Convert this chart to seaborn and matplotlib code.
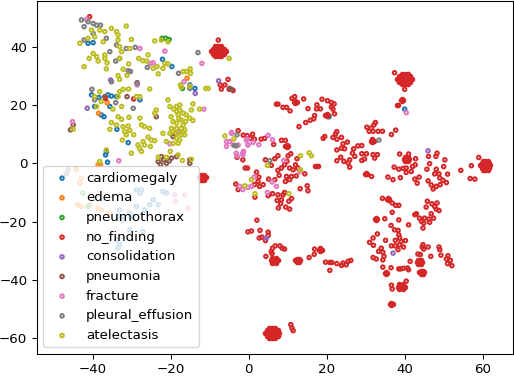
import matplotlib
matplotlib.use("Agg")
import matplotlib.pyplot as plt
import seaborn as sns

cardiomegaly = [(-41.2,41.2),(-39.9,41.4),(-22.1,35.7),(-19.7,33.2),(-40.3,23.5),(-38.4,22.6),(-36.1,23.5),(-35.2,23.1),(-33.9,22.9),
    (-39.5,19.5),(-35.6,19.5),(-27.9,21.8),(-37.1,16),(-37.8,16.6),(-33.8,11.7),(-30.9,7.1),(-36.7,2.9),(-36.5,4),(-36.2,0.4),
    (-15.1,26.9),(-13.8,25.7),(40,18.6),(20.6,16),(-28.8,-9.1),(-27.5,-9.1),(-27.9,-10.2),(-22,-9.7),(-21.1,-10.2),(-24.5,-12.5),
    (-25.4,-14.2),(-26.7,-16),(-23.2,-14.2),(-28.8,-14.8),(-33.1,-16),(-33.5,-18.2),(-32.2,-19.4),(-30.5,-17.1),(-29.7,-18.2),
    (-33.9,-26.2),(-33.1,-27.9),(-33.5,-29),(-30.5,-22.8),(-27.1,-23.4)]

edema = [(-15.8,29.2),(-36.3,20.8),(-38.5,17.2),(-38.6,-0.5),(-38,-0.5),(-44.2,-2),(-42.9,-5.1),(-43.3,-6.8),(-43.8,-14.2),
    (-42.9,-14.8),(-40.8,-14.2),(-38.6,-15.4),(-37.8,-16),(-35.6,-17.1)]

pneumothorax = [(-22.2,42.9),(-21.3,42.9),(-20.4,42.5),(-17,25.7),(-42.5,-10.2),(-41.2,-14.8)]

no_finding_scattered = [(-40.8,50.3),(-36.7,22.3),(-29.5,22.1),(-7.8,42.3),(-5.3,28.8),(-7.3,26.9),(-7,25.5),(-6.1,26.9),(-5,25.4),(-4,25),
    (37.4,31.1),(40,25.4),(7.1,20.3),(7.5,20.3),(11.1,22.3),(11.8,22.9),(14.1,22.1),(8.8,19.2),(9.7,19.2),(10.6,18),(15.2,18.8),
    (17.5,20.1),(17.4,18.7),(18.4,18.7),(18.8,22),(20.2,21.5),(21.2,20.9),(21.9,20.4),(21.2,19.3),(21.6,18.6),(22,17),
    (16.9,16.4),(16.7,15.3),(15.8,14.8),(14.6,14),(12.9,12.6),(19.1,8.6),(19.5,9.2),(22.6,10.9),(22.3,10.1),(21.6,8.9),(22.6,8.3),(23.8,8.9),
    (24.2,6.7),(25.3,7.3),(24.6,5),(22.6,4.6),(23.8,5.2),(26.9,5),(28,6),(29,6.1),(26.6,3.5),(27.2,2.4),(29,3.3),(30.2,3.3),(31.9,3),(33,3),(32.3,1.8),
    (23.6,2.1),(22.6,0.9),(24.4,0.7),(25.9,1.2),(25.5,0.1),(25.9,-1.3),(29,1),(29.7,1.5),(31.5,-4.5),
    (30.3,12.4),(31.4,12.1),(32.1,13.2),(32.5,14),(31.9,11),(33.2,11),(34.3,11),(30.9,11),(36.6,9.9),(37.7,11.4),
    (38.7,3.2),(41,3.2),(42.8,1.6),(42.7,-0.5),(42,-1.1),(37.3,-1.3),(38.5,-2),(40.4,-1.6),(39.6,-1.7),(41.7,-2.8),(40.4,-3.1),
    (35.7,-4.7),(37,-5.6),(38.9,-4.9),(42.6,-5.4),(43.7,-4.7),(43.2,-6.8),(45.7,-2),(46.4,-0.1),(46.1,2.4),(48.3,3.5),(48,2.4),
    (50.3,1.2),(50,-1.1),(48.1,-2),(47.7,-3.6),(48.8,-3.6),(51,-3.7),(46,-6),(46.8,-7.4),(48.1,-7.9),(47.3,-8.8),(49.1,-7.3),(49.8,-5.8),(50.7,-6.6),(49,-5),
    (54.4,-2.4),(57.1,-0.8),(59,2),(56.8,-5.2),(58,-5.4),
    (-2.7,11.2),(-0.4,9.5),(1,10),(0.4,8.6),(-1.4,9.7),(1.5,8.3),(3.2,8.3),(4.1,8.6),(8.4,7.9),(9.4,7.9),(6.4,6.5),
    (7.5,2.6),(10.8,3.3),(10.1,2.6),(4.3,1.2),(6.7,1.6),(12.4,1.6),(9.8,0.7),(12,-0.5),(5.8,-0.7),(7.5,-2.4),(8.4,-1.6),(9.2,-0.5),
    (10.5,-1.6),(11.4,-2.2),(12.6,-1.6),(14.4,-3.6),(7.8,-4.1),(9.7,-4.5),(11,-4.5),(12.2,-4.3),(9.4,-6.2),(10.5,-5.6),(5.1,-5.4),(6.7,-5.6),
    (-0.9,-1.6),(-0.3,-1.6),(2,-3),(2.6,-4.7),(2.4,-6.2),(1.5,-7.3),(2.8,-7.9),(3.7,-7.3),(-3.3,-7.1),(-2.7,-9),(-1.5,1.2),(-3,2.1),
    (13.2,-8.7),(15,-7.7),(15.2,-9.4),(5,-11.1),(6.1,-10.4),(7.5,-10.8),(8.8,-10.8),(7.3,-12.7),(8.4,-12.5),(9.2,-10),(11,-12.1),(10.3,-13),
    (8.2,-13.8),(9.5,-15),(10.5,-15.7),(7.6,-15.3),(1.6,-11.6),(34.3,-12),(36.8,-13.6),(37.7,-14.4),(38.5,-14.4),(45.5,-15),(45.8,-13),(48.3,-13.6),
    (2.1,-19.5),(-0.2,-23.5),(0.7,-23.2),(2.9,-23),(5,-23.6),(5,-24.7),(2.7,-25.6),(3.4,-25.3),(4.3,-26.5),
    (9.2,-29.4),(8.6,-29.1),(8,-28.3),(6.8,-28.3),(6.1,-29.1),(5.8,-30.2),(6,-31),(4.4,-31.9),(16.9,-29.4),(16.8,-31.2),(15.5,-32.3),
    (19.7,-33.9),(20.8,-34),(21.3,-34),(22.6,-34.4),(23.8,-35),(24.2,-34.2),(25,-34.8),(25.5,-33.6),(26.2,-33.3),(20.8,-36.7),
    (10.8,-55.3),(11.1,-56.5),(11.4,-57.4),
    (47,-13.9),(47.7,-14.8),(48.8,-16.2),(48.1,-15.7),(36.8,-16.8),(43,-17.3),(42.6,-17.6),(46.8,-17.3),(43.8,-18.8),(45.1,-18.8),(44.3,-19.9),
    (46.2,-19.1),(47.4,-18.8),(46.4,-20.2),(44.7,-22.2),(44.9,-20.5),(34.9,-19),(38.5,-19.4),(36.5,-21.3),(41,-21.1),(37.4,-22.8),(38.3,-23),(38.5,-24.5),
    (33,-24.2),(31.9,-25.6),(31,-27.1),(32,-28.1),(35.1,-26.4),(37.6,-26.4),(38.7,-25.6),(39.1,-26.8),(40.2,-26.5),(36.6,-28.3),(37.6,-28.3),(38.7,-27.9),
    (39.7,-28.7),(38.3,-29.6),(34,-29.1),(33.3,-30.2),(34.4,-30.5),(34.7,-31.9),(34.4,-33.1),(31.9,-32.3),(32.7,-32.8),
    (34.4,-35.6),(36.5,-35.8),(38.5,-36.2),(39,-36.2),(39.7,-36),(40.7,-35.9),(41,-36.5),(41.4,-33.6),(43.4,-31.1),(44,-31.3),(46.7,-31.9),
    (44.7,-27.9),(46,-28.7),(44.9,-29.4),(44.5,-28.7),(48.8,-28.7),(49,-29.6),(49.3,-31.5),(51.1,-31.7),(50.7,-32.8),(51.7,-33.3),(51,-34.4),(52.1,-35.1),
    (36.6,-41.8),(36.8,-43.1),(40.4,-40.4)]

no_finding_dense = [
    (-9.7,38.5),(-8.75,38.5),(-7.8,38.5),(-6.85,38.5),(-5.9,38.5),(-9.2,39.4),(-8.25,39.4),(-7.35,39.4),(-6.4,39.4),(-9.2,37.6),(-8.25,37.6),(-7.35,37.6),(-6.4,37.6),
    (-8.6,40.3),(-7.8,40.3),(-7,40.3),(-8.6,36.7),(-7.8,36.7),(-7,36.7),
    (38.1,28.9),(39.05,28.9),(40,28.9),(40.95,28.9),(41.9,28.9),(38.6,29.8),(39.55,29.8),(40.45,29.8),(41.4,29.8),(38.6,28),(39.55,28),(40.45,28),(41.4,28),
    (39.2,30.7),(40,30.7),(40.8,30.7),(39.2,27.1),(40,27.1),(40.8,27.1),
    (4.1,-58.2),(5.05,-58.2),(6,-58.2),(6.95,-58.2),(7.9,-58.2),(4.6,-57.3),(5.55,-57.3),(6.45,-57.3),(7.4,-57.3),(4.6,-59.1),(5.55,-59.1),(6.45,-59.1),(7.4,-59.1),
    (5.2,-56.4),(6,-56.4),(6.8,-56.4),(5.2,-60),(6,-60),(6.8,-60),
    (59.4,-0.7),(60.05,-0.7),(60.7,-0.7),(61.35,-0.7),(62,-0.7),(59.8,0.1),(60.4,0.1),(61,0.1),(61.6,0.1),(59.8,-1.5),(60.4,-1.5),(61,-1.5),(61.6,-1.5),
    (60.1,0.8),(60.7,0.8),(61.3,0.8),(60.1,-2.2),(60.7,-2.2),(61.3,-2.2),
    (-11.9,-4.8),(-12.8,-4.8),(-11,-4.8),(-12.35,-4),(-11.45,-4),(-12.35,-5.6),(-11.45,-5.6),
    (6.5,-33.3),(5.6,-33.3),(7.4,-33.3),(6.05,-32.5),(6.95,-32.5),(6.05,-34.1),(6.95,-34.1),
    (12.6,-33.3),(12,-33.3),(13.2,-33.3),(12.3,-32.7),(12.9,-32.7),(12.3,-33.9),(12.9,-33.9),
    (39.1,-42.3),(38.2,-42.3),(40,-42.3),(38.65,-41.5),(39.55,-41.5),(38.65,-43.1),(39.55,-43.1),
    (43.8,-33.7),(43.1,-33.7),(44.5,-33.7),(43.45,-33),(44.15,-33),(43.45,-34.4),(44.15,-34.4),
    (44.4,-37.4),(43.8,-37.4),(45,-37.4),(44.1,-36.8),(44.7,-36.8),(44.1,-38),(44.7,-38),
    (40.4,1.5),(39.7,1.5),(41.1,1.5),(40.05,2.2),(40.75,2.2),(40.05,0.8),(40.75,0.8),
    (18,-29.6),(18.8,-29.6),(18.4,-29.2),(18.4,-30),(9.3,6),(10.1,6),(9.7,6.4),(9.7,5.6),(11.6,21.1),(12.4,21.1),(12,21.5),(12,20.7),
    (19.6,16.6),(20.4,16.6),(20,17),(20,16.2),(31.3,7.8),(32.1,7.8),(31.7,8.2),(31.7,7.4),
    (29.7,-3.5),(30.3,-3.5),(30,-3.2),(30,-3.8),(39,21.8),(39.6,21.8),(39.3,22.1),(39.3,21.5),(36.3,-48.3),(36.9,-48.3),(36.6,-48),(36.6,-48.6),
    (32.3,-19),(32.9,-19),(32.6,-18.7),(32.6,-19.3),(34.9,-37.6),(35.5,-37.6),(35.2,-37.3),(35.2,-37.9),(35.4,-12.2),(36,-12.2),(35.7,-11.9),(35.7,-12.5),
    (38,20),(38.3,20),(16.9,-0.8),(17.4,-0.8),(17.9,-0.8)]

consolidation = [(-41.4,18.9),(-35.4,28.6),(-13.7,24),(-7.7,28.3),(46,4.3),(4.5,-25.6),(37,-30.8)]

pneumonia = [(-31.2,22.9),(-28.6,27.7),(-23.7,16),(-45,13.2),(-45.7,11.5),(-23.2,0.6),(-22.4,2.3),(-21.1,0),(-19.8,1.8),(-18.5,2.3),
    (-15.1,0),(-15.1,1.2),(-21.8,1.2),(-4.9,25.7),(-4.4,25.4),(-19.4,9.2),(-36.9,22.9),(-22.6,-0.4),(-20.4,0.8)]

fracture = [(-41.6,49.4),(-21.5,38.5),(-12,34.3),(-24.5,34.5),(-25.2,34.3),(-16.6,28),(-28.6,26.9),(-11.5,18.6),(-45.2,14.3),(-18.1,10.9),(-20.2,6.7),
    (-33.3,0.9),(-27.9,39.4),(-4.4,10.3),(-5.7,7.5),(-4.9,7.5),(-4,6.3),(-5.7,5.8),(-2.7,6.3),(-0.6,8),(-0.2,6.3),(-3.2,3.5),(-1.5,3.5),
    (-4.4,10.6),(-0.4,8.3),(-0.2,6.4),(1.1,7.2),(2.6,6.4),(5,9.6),(6.1,8.1),(-1.3,4.1),(-1.5,2.9),(-3,2.6),(9,1),(1.4,-4.7),(6,-6.4),(7.1,-7.9),
    (0.7,-7.9),(-0.2,-8.2),(-2.3,-7.9),(-1.5,-9),(4.8,-10),(13.1,-2.8),(40.4,17.4),(-16.4,-10.8),(-15.6,-15.4),(-19,-10.8),(-18.8,-13)]

pleural_effusion = [(-42.9,49.2),(-42.2,46.9),(-41.2,48.6),(-39.9,48),(-39,47.4),(-38,47.4),(-42.2,42.3),(-39.9,44.6),(-39.5,21.8),(-40.2,25.4),
    (-34.1,20.8),(-29.6,18.9),(-33.9,40.6),(-35.6,38.3),(-31.4,39.4),(-29.1,39.8),(-33.1,36),(-34.1,35.1),(-26,32.9),(-30.9,31.8),(-30.3,31.5),
    (-18,30.9),(-13,38),(-15.1,25.7),(-35.2,28),(-28.6,27.5),(-36.5,42.9),(-3,9.8),(-3.2,6),(33.4,8),(5.4,0.9),(-3.6,6.1),(-46.3,-2.2),(-46.8,-3.6)]

atelectasis = [(-40.3,45.7),(-38.2,45.7),(-36.9,45.2),(-35.2,46.3),(-33.9,45.2),(-33.5,44),(-33.5,42.3),(-39.5,43.4),(-41.2,42.9),(-43.3,41.2),(-37.3,41.7),
    (-31.4,47.1),(-30.1,42.5),(-33.1,40),(-32.6,38.3),(-30.5,39.4),(-33.1,36),(-39.9,37.7),(-39,36.6),(-38.6,35.1),(-36.9,37.2),(-36.9,36),(-40.9,36),
    (-36.3,34.5),(-36.5,32.4),(-42.2,33.2),(-30.8,34.1),(-32.2,32.3),(-31.2,30.2),(-33.5,30.1),(-33.1,28.8),(-28.2,36),(-27.1,35.2),(-26.2,35.1),(-25.8,37.2),
    (-24.5,32.6),(-23.2,30.7),(-23.5,33.2),(-24.1,42),(-22.4,42.3),(-20.7,41.7),(-22,32.6),(-21.5,34.3),(-20.7,34.1),(-16.8,31.5),(-16,31.5),(-15,32.4),(-14.9,30.9),
    (-17.5,26.9),(-17.3,26.1),(-15.1,26.5),(-10.4,25.7),(-11,25.7),(-5,36),
    (-38.2,24.6),(-39.5,22.9),(-37.8,21.2),(-39,19.5),(-33.1,24.6),(-32.2,25.4),(-30.8,25.5),(-33.5,22.9),(-32.6,19.5),(-34.8,18.6),(-25.4,25.5),(-28.8,22.9),(-27.9,22.9),
    (-23.7,18.3),(-24.1,17.2),(-33.5,16),(-32.6,15.1),(-30.7,15.8),(-27.9,15.5),(-35.2,14),(-33.9,13.2),(-32.2,12.6),(-30.9,12.8),(-35.6,11.7),(-27.5,13.2),(-26.7,12.6),(-25.4,12),
    (-31.8,10.9),(-30.5,11.3),(-31.4,9.8),(-29.5,9.8),(-32.4,8),(-25.8,9),(-25,8),(-24.1,7.8),(-27.1,7.5),(-28.4,6.3),(-26.7,6.3),(-25.2,5.8),(-28,5.2),(-27.5,4.1),(-30.1,3.5),(-36.5,4.6),(-38.2,0.6),
    (-20.7,21.8),(-20.2,19.5),(-18.5,19.5),(-17.7,20),(-14.3,20.4),(-14.7,18.3),(-12.6,18.6),(-18.5,17.8),(-18.1,16.6),(-16.8,17.2),(-16,16.6),(-17.3,14.9),(-15.1,15.5),(-14.3,14.7),
    (-19.4,14.3),(-18.5,13.8),(-16.8,13.2),(-19.8,12),(-18.5,12),(-17.3,12),(-16.4,11.5),(-20.2,10.3),(-22,10.3),(-18.5,10.3),(-17.3,9.8),(-16.4,9.8),(-21.1,7.5),(-18.5,8.6),(-17.7,8),
    (-19.4,6.9),(-18.1,6.9),(-20.1,4.1),(-18.1,2.9),(-17,1),(-14.7,1.4),(-23.2,2.1),(-21.1,2.1),(-19.2,18.6),(-17.6,18.2),(-19.9,16),(-17.9,15.3),(-16.2,14.4),(-19.6,10.9),(-16.9,10.6),
    (-45,11.7),(-6.1,9.4),(-3.8,8.4),(13.3,2.6),(15.5,3.6),(16.1,2.6),(4.8,-0.7),(13.3,-2.2),(0.7,-5.6),(-1,-7.7),(1.6,-10.4),(10.3,-10.4)]

class_names = ["cardiomegaly", "edema", "pneumothorax", "no_finding", "consolidation",
               "pneumonia", "fracture", "pleural_effusion", "atelectasis"]
class_points = [cardiomegaly, edema, pneumothorax, no_finding_scattered, consolidation,
                pneumonia, fracture, pleural_effusion, atelectasis]
palette = sns.color_palette("tab10", 9)

W, H, DPI = 514, 376, 96
fig = plt.figure(figsize=(W / DPI, H / DPI), dpi=DPI)
ax = fig.add_axes([36.7 / W, 1 - 354 / H, (512.7 - 36.7) / W, (354 - 0.7) / H])

for name, pts, col in zip(class_names, class_points, palette):
    sns.scatterplot(x=[p[0] for p in pts], y=[p[1] for p in pts], ax=ax, s=7,
                    facecolor="none", edgecolor=col, linewidth=1.5, label=name)
    if name == "no_finding":
        # tightly overlapping clusters read as solid blobs
        sns.scatterplot(x=[p[0] for p in no_finding_dense], y=[p[1] for p in no_finding_dense], ax=ax,
                        s=7, facecolor=col, edgecolor=col, linewidth=1.5)

ax.set_xlim(-54.36, 67.7)
ax.set_ylim(-65.4, 55.8)
ax.set_xticks([-40, -20, 0, 20, 40, 60])
ax.set_yticks([-60, -40, -20, 0, 20, 40])
ax.legend(loc="lower left")
fig.savefig("out.png", dpi=DPI)
